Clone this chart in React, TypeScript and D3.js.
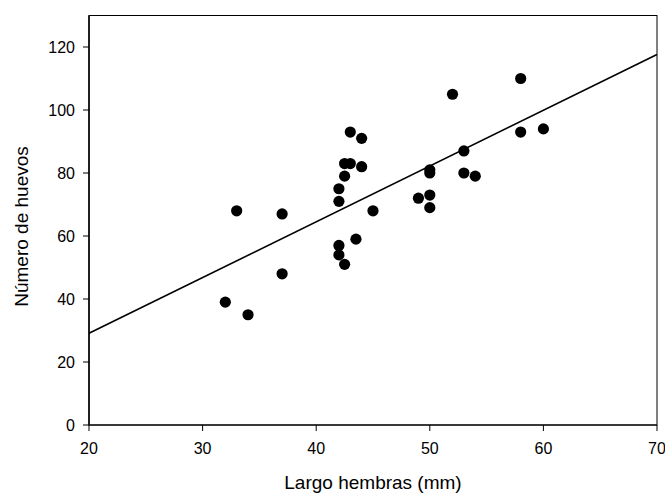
import React from "react";
import * as d3 from "d3";

const largo: number[] = [32, 34, 33, 37, 37, 42, 42, 42, 42, 42.5, 42.5, 42.5, 43, 43, 43.5, 44, 44, 45, 49, 50, 50, 50, 50, 52, 53, 53, 54, 58, 58, 60];
const huevos: number[] = [39, 35, 68, 67, 48, 75, 71, 57, 54, 51, 79, 83, 83, 93, 59, 91, 82, 68, 72, 73, 69, 81, 80, 105, 87, 80, 79, 110, 93, 94];
const fitIntercept = -6.3;
const fitSlope = 1.77;
const xTicks: number[] = [20, 30, 40, 50, 60, 70];
const yTicks: number[] = [0, 20, 40, 60, 80, 100, 120];
const xDomain: [number, number] = [20, 70];
const yDomain: [number, number] = [0, 130];
const xTitle = "Largo hembras (mm)";
const yTitle = "Número de huevos";

const W = 665;
const H = 493;
const left = 89;
const right = 657;
const top = 15.5;
const bottom = 425;
const font = "Arial, 'Liberation Sans', sans-serif";

export default function App() {
  const x = d3.scaleLinear().domain(xDomain).range([left, right]);
  const y = d3.scaleLinear().domain(yDomain).range([bottom, top]);
  const line = d3
    .line<number>()
    .x((d) => x(d))
    .y((d) => y(fitIntercept + fitSlope * d));
  const lineData = xDomain;

  return (
    <div style={{ position: "absolute", left: 0, top: 0 }}>
      <svg width={W} height={H} style={{ display: "block", background: "#fff" }}>
        <rect x={left} y={top} width={right - left} height={bottom - top} fill="none" stroke="#000" strokeWidth={1} />
        <line x1={left} x2={left} y1={top} y2={bottom + 0.5} stroke="#000" strokeWidth={1.5} />
        <line x1={left} x2={right} y1={bottom} y2={bottom} stroke="#222" strokeWidth={1.5} />
        {yTicks.map((t) => (
          <g key={"y" + t}>
            <line x1={left - 6} x2={left} y1={y(t)} y2={y(t)} stroke="#000" strokeWidth={1} />
            <text x={left - 14} y={y(t)} dy="0.35em" textAnchor="end" fontFamily={font} fontSize={16} fill="#000">
              {t}
            </text>
          </g>
        ))}
        {xTicks.map((t) => (
          <g key={"x" + t}>
            <line x1={x(t)} x2={x(t)} y1={bottom} y2={bottom + 6} stroke="#000" strokeWidth={1} />
            <text x={x(t)} y={454} textAnchor="middle" fontFamily={font} fontSize={16} fill="#000">
              {t}
            </text>
          </g>
        ))}
        <path d={line(lineData) || ""} fill="none" stroke="#000" strokeWidth={1.6} />
        {largo.map((v, i) => (
          <circle key={i} cx={x(v)} cy={y(huevos[i])} r={5.6} fill="#000" />
        ))}
        <text x={373} y={489} textAnchor="middle" fontFamily={font} fontSize={19} fill="#000">
          {xTitle}
        </text>
        <text
          transform={`translate(27.5, 226.5) rotate(-90)`}
          textAnchor="middle"
          fontFamily={font}
          fontSize={19}
          fill="#000"
        >
          {yTitle}
        </text>
      </svg>
    </div>
  );
}
